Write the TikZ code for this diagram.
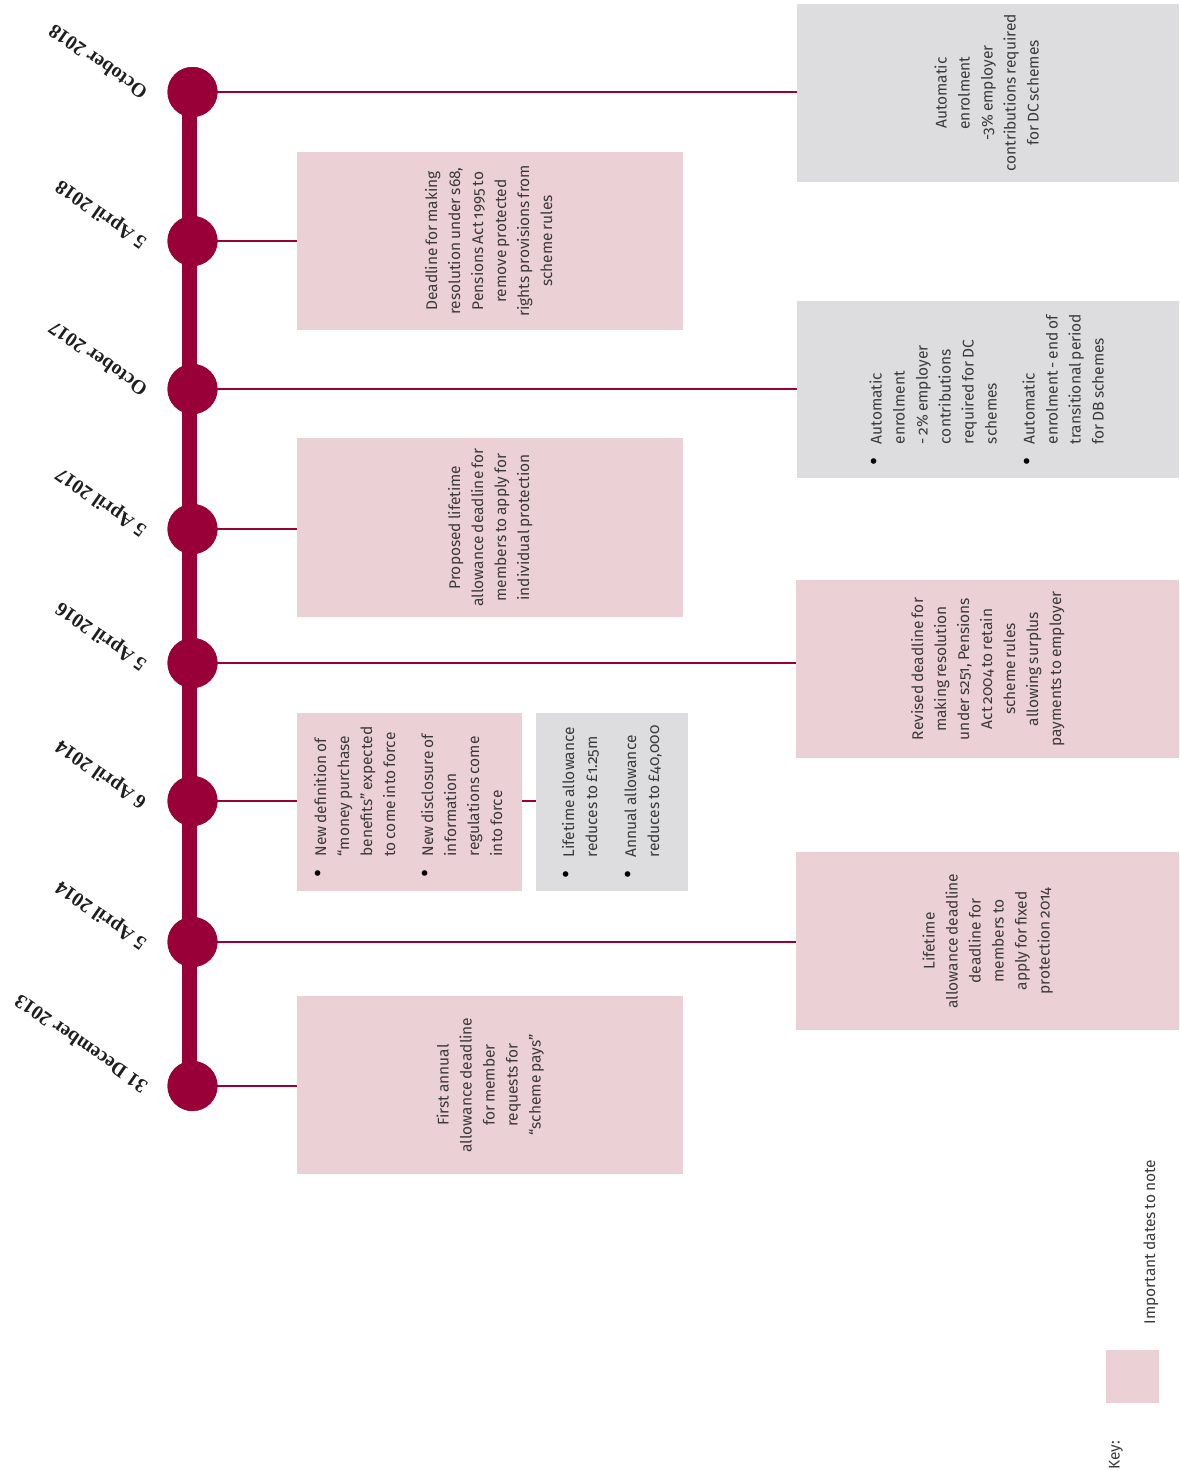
\documentclass[tikz,border=0pt]{standalone}
\usepackage{fontspec}
\usepackage{graphicx}
\setmainfont{Fira Sans}[Numbers=OldStyle, WordSpace=0.7]
\newfontfamily\datefont{Liberation Serif}
\definecolor{crimson}{RGB}{153,0,56}
\definecolor{pinkbox}{RGB}{235,208,213}
\definecolor{graybox}{RGB}{221,221,223}
\definecolor{txt}{RGB}{58,58,58}
\newcommand{\boxfont}{\fontsize{15.5}{23}\selectfont}
\newcommand{\bul}{\makebox[21pt][l]{\raisebox{-0.6pt}{\textcolor{black}{\scalebox{1.6}{•}}}}}
\newcommand{\ind}{\hspace*{21pt}}
\newcommand{\rc}[1]{\rotatebox{90}{\begin{tabular}{@{}c@{}}#1\end{tabular}}}
\newcommand{\rl}[1]{\rotatebox{90}{\begin{tabular}{@{}l@{}}#1\end{tabular}}}
\tikzset{
  dot/.style={circle, fill=crimson, minimum size=50pt, inner sep=0pt},
  link/.style={crimson, line width=2.2pt},
  card/.style={inner sep=0pt, text=txt, font=\boxfont},
  pinkcard/.style={card, fill=pinkbox},
  graycard/.style={card, fill=graybox},
  datelabel/.style={rotate=145, anchor=west, inner sep=0pt, text=black!88,
    font=\datefont\bfseries\fontsize{20}{20}\selectfont},
}
\begin{document}
\begin{tikzpicture}[x=1pt,y=-1pt]
\useasboundingbox (0,0) rectangle (1179,1470);
\fill[white] (0,0) rectangle (1179,1470);

% circles (timeline points)
\node[dot] (c1) at (192.5,92) {};
\node[dot] (c2) at (192.5,241) {};
\node[dot] (c3) at (192.5,389) {};
\node[dot] (c4) at (192.5,529) {};
\node[dot] (c5) at (192.5,663) {};
\node[dot] (c6) at (192.5,801) {};
\node[dot] (c7) at (192.5,942) {};
\node[dot] (c8) at (192.5,1086) {};

% boxes
\node[graycard, minimum width=382pt, minimum height=178pt] (b1) at (988,93)
  {\rc{Automatic\\ enrolment\\ -3\% employer\\ contributions required\\ for DC schemes}};
\node[pinkcard, minimum width=386pt, minimum height=178pt] (b2) at (490,241)
  {\rc{Deadline for making\\ resolution under s68,\\ Pensions Act 1995 to\\ remove protected\\ rights provisions from\\ scheme rules}};
\node[graycard, minimum width=382pt, minimum height=177pt] (b3) at (988,389.5)
  {\rl{\bul Automatic\\ \ind enrolment\\ \ind - 2\% employer\\ \ind contributions\\ \ind required for DC\\ \ind schemes\\[15pt]
       \bul Automatic\\ \ind enrolment - end of\\ \ind transitional period\\ \ind for DB schemes}};
\node[pinkcard, minimum width=386pt, minimum height=179pt] (b4) at (490,527.5)
  {\rc{Proposed lifetime\\ allowance deadline for\\ members to apply for\\ individual protection}};
\node[pinkcard, minimum width=383pt, minimum height=178pt] (b5) at (987.5,669)
  {\rc{Revised deadline for\\ making resolution\\ under s251, Pensions\\ Act 2004 to retain\\ scheme rules\\ allowing surplus\\ payments to employer}};
\node[pinkcard, minimum width=225pt, minimum height=178pt] (b6) at (409.5,802)
  {\rl{\bul New definition of\\ \ind “money purchase\\ \ind benefits” expected\\ \ind to come into force\\[15pt]
       \bul New disclosure of\\ \ind information\\ \ind regulations come\\ \ind into force}};
\node[graycard, minimum width=152pt, minimum height=178pt] (b7) at (612,802)
  {\rl{\bul Lifetime allowance\\ \ind reduces to £1.25m\\[16pt]
       \bul Annual allowance\\ \ind reduces to £40,000}};
\node[pinkcard, minimum width=383pt, minimum height=178pt] (b8) at (987.5,941)
  {\rc{Lifetime\\ allowance deadline\\ deadline for\\ members to\\ apply for fixed\\ protection 2014}};
\node[pinkcard, minimum width=386pt, minimum height=178pt] (b9) at (490,1085)
  {\rc{First annual\\ allowance deadline\\ for member\\ requests for\\ “scheme pays”}};

% timeline bar and connectors
\draw[crimson, line width=15.5pt] ([xshift=-3pt]c1.center) -- ([xshift=-3pt]c8.center);
\draw[link] (c1.center) -- (c1.center -| b1.west);
\draw[link] (c2.center) -- (c2.center -| b2.west);
\draw[link] (c3.center) -- (c3.center -| b3.west);
\draw[link] (c4.center) -- (c4.center -| b4.west);
\draw[link] (c5.center) -- (c5.center -| b5.west);
\draw[link] (c6.center) -- (c6.center -| b6.west);
\draw[link] (c6.center -| b6.east) -- (c6.center -| b7.west);
\draw[link] (c7.center) -- (c7.center -| b8.west);
\draw[link] (c8.center) -- (c8.center -| b9.west);
% circles on top of the bar
\foreach \n in {c1,c2,c3,c4,c5,c6,c7,c8} \fill[crimson] (\n.center) circle[radius=25pt];

% date labels
\node[datelabel] (l1) at (145,95) {October 2018};
\node[datelabel] (l2) at (145,244) {5 April 2018};
\node[datelabel] (l3) at (145,392) {October 2017};
\node[datelabel] (l4) at (145,532) {5 April 2017};
\node[datelabel] (l5) at (145,666) {5 April 2016};
\node[datelabel] (l6) at (145,804) {6 April 2014};
\node[datelabel] (l7) at (145,945) {5 April 2014};
\node[datelabel] (l8) at (145,1089) {31 December 2013};

% key
\node[fill=pinkbox, minimum size=53pt, inner sep=0pt] (key) at (1132.5,1376.5) {};
\node[rotate=90, inner sep=0pt, text=txt, font=\boxfont] (keylbl) at (1116,1455) {Key:};
\node[rotate=90, inner sep=0pt, text=txt, font=\boxfont] (keytxt) at (1151,1242) {Important dates to note};
\end{tikzpicture}
\end{document}
